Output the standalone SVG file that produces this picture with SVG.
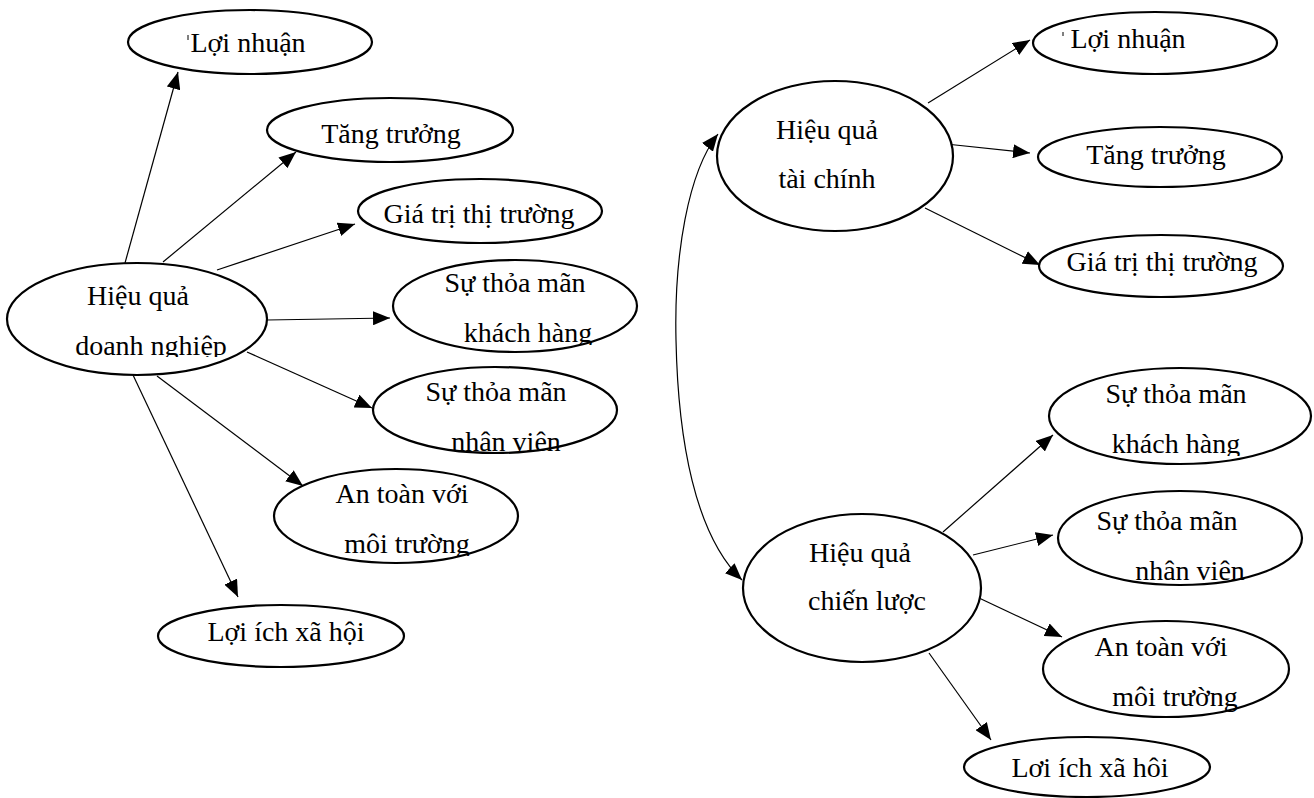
<svg xmlns="http://www.w3.org/2000/svg" width="1314" height="798" viewBox="0 0 1314 798">
<style>
.n ellipse{fill:#fff;stroke:#000;stroke-width:2.2}
.n text{font-family:"Liberation Serif","Times New Roman",serif;font-size:28px;fill:#000;text-anchor:middle}
.c line,.c path{stroke:#000;stroke-width:1.2;fill:none}
</style>
<defs>
<marker id="ah" markerUnits="userSpaceOnUse" markerWidth="18" markerHeight="14" refX="17" refY="7" orient="auto-start-reverse">
<path d="M0,0 L17,7 L0,14 z" fill="#000"/>
</marker>
<clipPath id="k1"><rect x="0" y="0" width="1314" height="357"/></clipPath>
<clipPath id="k2"><rect x="0" y="0" width="1314" height="345"/></clipPath>
<clipPath id="k3"><rect x="0" y="0" width="1314" height="453"/></clipPath>
<clipPath id="k4"><rect x="0" y="0" width="1314" height="556"/></clipPath>
<clipPath id="k5"><rect x="0" y="0" width="1314" height="456"/></clipPath>
<clipPath id="k6"><rect x="0" y="0" width="1314" height="583"/></clipPath>
<clipPath id="k7"><rect x="0" y="0" width="1314" height="712"/></clipPath>
<clipPath id="k8"><rect x="0" y="0" width="1314" height="778"/></clipPath>
</defs>

<g class="c" id="connectors">
<line x1="125" y1="263" x2="178" y2="72" marker-end="url(#ah)"/>
<line x1="163" y1="262" x2="296" y2="152" marker-end="url(#ah)"/>
<line x1="217" y1="270" x2="355" y2="224" marker-end="url(#ah)"/>
<line x1="267" y1="320" x2="390" y2="318" marker-end="url(#ah)"/>
<line x1="247" y1="352" x2="372" y2="408" marker-end="url(#ah)"/>
<line x1="157" y1="376" x2="303" y2="486" marker-end="url(#ah)"/>
<line x1="133" y1="375" x2="238" y2="597" marker-end="url(#ah)"/>
<line x1="928" y1="103" x2="1030" y2="40" marker-end="url(#ah)"/>
<line x1="946" y1="144" x2="1030" y2="153" marker-end="url(#ah)"/>
<line x1="925" y1="208" x2="1040" y2="265" marker-end="url(#ah)"/>
<line x1="943" y1="532" x2="1053" y2="435" marker-end="url(#ah)"/>
<line x1="973" y1="555" x2="1053" y2="535" marker-end="url(#ah)"/>
<line x1="979" y1="598" x2="1062" y2="637" marker-end="url(#ah)"/>
<line x1="929" y1="653" x2="991" y2="740" marker-end="url(#ah)"/>
<path d="M718,134 C688,172 674,255 676,340 C678,440 695,535 742,580" marker-start="url(#ah)" marker-end="url(#ah)"/>
</g>

<g class="n" id="dn">
<ellipse cx="137" cy="319" rx="130" ry="56"/>
<text x="138" y="305">Hiệu quả</text>
<text x="151" y="355" clip-path="url(#k1)">doanh nghiệp</text>
</g>
<g class="n" id="l-loinhuan">
<ellipse cx="250" cy="42" rx="122" ry="32"/>
<text x="248" y="52">Lợi nhuận</text>
<line x1="188" y1="35" x2="188" y2="40" stroke="#000" stroke-width="1"/>
</g>
<g class="n" id="l-tangtruong">
<ellipse cx="390" cy="130" rx="123" ry="32"/>
<text x="391" y="143">Tăng trưởng</text>
</g>
<g class="n" id="l-giatri">
<ellipse cx="480" cy="211" rx="122" ry="32"/>
<text x="479" y="223">Giá trị thị trường</text>
</g>
<g class="n" id="l-khachhang">
<ellipse cx="515" cy="306" rx="122" ry="46"/>
<text x="515" y="292">Sự thỏa mãn</text>
<text x="528" y="342" clip-path="url(#k2)">khách hàng</text>
</g>
<g class="n" id="l-nhanvien">
<ellipse cx="495" cy="410" rx="122" ry="43"/>
<text x="496" y="401">Sự thỏa mãn</text>
<text x="506" y="451" clip-path="url(#k3)">nhân viên</text>
</g>
<g class="n" id="l-antoan">
<ellipse cx="396" cy="516" rx="122" ry="47"/>
<text x="402" y="503">An toàn với</text>
<text x="407" y="553" clip-path="url(#k4)">môi trường</text>
</g>
<g class="n" id="l-loiich">
<ellipse cx="281" cy="636" rx="123" ry="31"/>
<text x="286" y="641">Lợi ích xã hội</text>
</g>

<g class="n" id="tc">
<ellipse cx="835" cy="156" rx="118" ry="75"/>
<text x="827" y="139">Hiệu quả</text>
<text x="827" y="188">tài chính</text>
</g>
<g class="n" id="cl">
<ellipse cx="862" cy="588" rx="119" ry="74"/>
<text x="860" y="562">Hiệu quả</text>
<text x="867" y="610">chiến lược</text>
</g>
<g class="n" id="r-loinhuan">
<ellipse cx="1155" cy="43" rx="122" ry="31"/>
<text x="1128" y="48">Lợi nhuận</text>
<line x1="1063" y1="32" x2="1063" y2="36" stroke="#000" stroke-width="1"/>
</g>
<g class="n" id="r-tangtruong">
<ellipse cx="1160" cy="157" rx="122" ry="30"/>
<text x="1156" y="164">Tăng trưởng</text>
</g>
<g class="n" id="r-giatri">
<ellipse cx="1161" cy="266" rx="122" ry="31"/>
<text x="1162" y="271">Giá trị thị trường</text>
</g>
<g class="n" id="r-khachhang">
<ellipse cx="1180" cy="416" rx="131" ry="48"/>
<text x="1176" y="403">Sự thỏa mãn</text>
<text x="1176" y="453" clip-path="url(#k5)">khách hàng</text>
</g>
<g class="n" id="r-nhanvien">
<ellipse cx="1180" cy="538" rx="122" ry="47"/>
<text x="1167" y="530">Sự thỏa mãn</text>
<text x="1190" y="580" clip-path="url(#k6)">nhân viên</text>
</g>
<g class="n" id="r-antoan">
<ellipse cx="1166" cy="669" rx="123" ry="48"/>
<text x="1161" y="656">An toàn với</text>
<text x="1175" y="706" clip-path="url(#k7)">môi trường</text>
</g>
<g class="n" id="r-loiich">
<ellipse cx="1087" cy="767" rx="123" ry="30"/>
<text x="1090" y="777" clip-path="url(#k8)">Lợi ích xã hội</text>
</g>
</svg>
